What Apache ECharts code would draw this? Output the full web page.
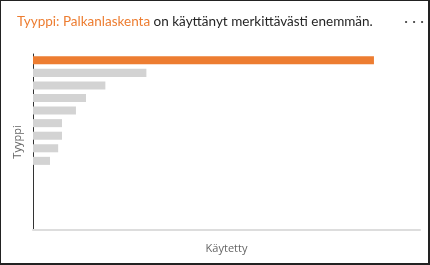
<!DOCTYPE html>
<html>
<head>
<meta charset="utf-8">
<script src="https://cdn.jsdelivr.net/npm/echarts@6/dist/echarts.min.js"></script>
<style>
html,body{margin:0;padding:0;background:#fff;}
#frame{position:absolute;left:0;top:0;width:430px;height:265px;box-sizing:border-box;border-top:1px solid #222;border-left:1px solid #222;border-right:2px solid #222;border-bottom:2px solid #222;pointer-events:none;z-index:2;}
#chart{position:absolute;left:0;top:0;width:430px;height:265px;}
</style>
</head>
<body>
<div id="chart"></div>
<div id="frame"></div>
<script>
const categories = ['Palkanlaskenta','Tyyppi B','Tyyppi C','Tyyppi D','Tyyppi E','Tyyppi F','Tyyppi G','Tyyppi H','Tyyppi I','Tyyppi J','Tyyppi K','Tyyppi L','Tyyppi M','Tyyppi N'];
const values = [88.1, 29.3, 18.7, 13.7, 11.1, 7.5, 7.5, 6.5, 4.4, 0, 0, 0, 0, 0];
const highlightIndex = 0;
const titleHighlight = 'Tyyppi: Palkanlaskenta';
const titleRest = ' on käyttänyt merkittävästi enemmän.';
const xAxisName = 'Käytetty';
const yAxisName = 'Tyyppi';
const xMax = 100;

const chart = echarts.init(document.getElementById('chart'));
chart.setOption({
  animation: false,
  textStyle: {fontFamily: 'Lato'},
  title: {
    left: 12, top: 10,
    text: '{a|' + titleHighlight + '}{b|' + titleRest + '}',
    textStyle: {
      fontWeight: 'normal',
      rich: {
        a: {color: '#ED7D31', fontSize: 13.5, fontWeight: 'normal', fontFamily: 'Lato'},
        b: {color: '#252525', fontSize: 13.5, fontWeight: 'normal', fontFamily: 'Lato'}
      }
    }
  },
  graphic: [{
    type: 'text', left: 404, top: 18,
    style: {text: '· · ·', fill: '#555', fontSize: 11, fontWeight: 'bold', fontFamily: 'DejaVu Sans'}
  }],
  grid: {left: 33, right: 10, top: 54, bottom: 35, containLabel: false},
  xAxis: {
    type: 'value', min: 0, max: xMax,
    name: xAxisName, nameLocation: 'middle', nameGap: 13,
    nameTextStyle: {color: '#666', fontSize: 11, fontFamily: 'Open Sans'},
    axisLine: {show: true, lineStyle: {color: '#DDDDDD', width: 2}},
    axisTick: {show: false}, axisLabel: {show: false}, splitLine: {show: false}
  },
  yAxis: {
    type: 'category', data: categories, inverse: true,
    name: yAxisName, nameLocation: 'middle', nameGap: 10,
    nameTextStyle: {color: '#666', fontSize: 11, fontFamily: 'Open Sans'},
    axisLine: {show: true, lineStyle: {color: '#333', width: 1}},
    axisTick: {show: false}, axisLabel: {show: false}, splitLine: {show: false}
  },
  series: [{
    type: 'bar',
    data: values.map((v, i) => ({value: v, itemStyle: {color: i === highlightIndex ? '#ED7D31' : '#D3D3D3'}})),
    barWidth: '64%'
  }]
});
</script>
</body>
</html>
